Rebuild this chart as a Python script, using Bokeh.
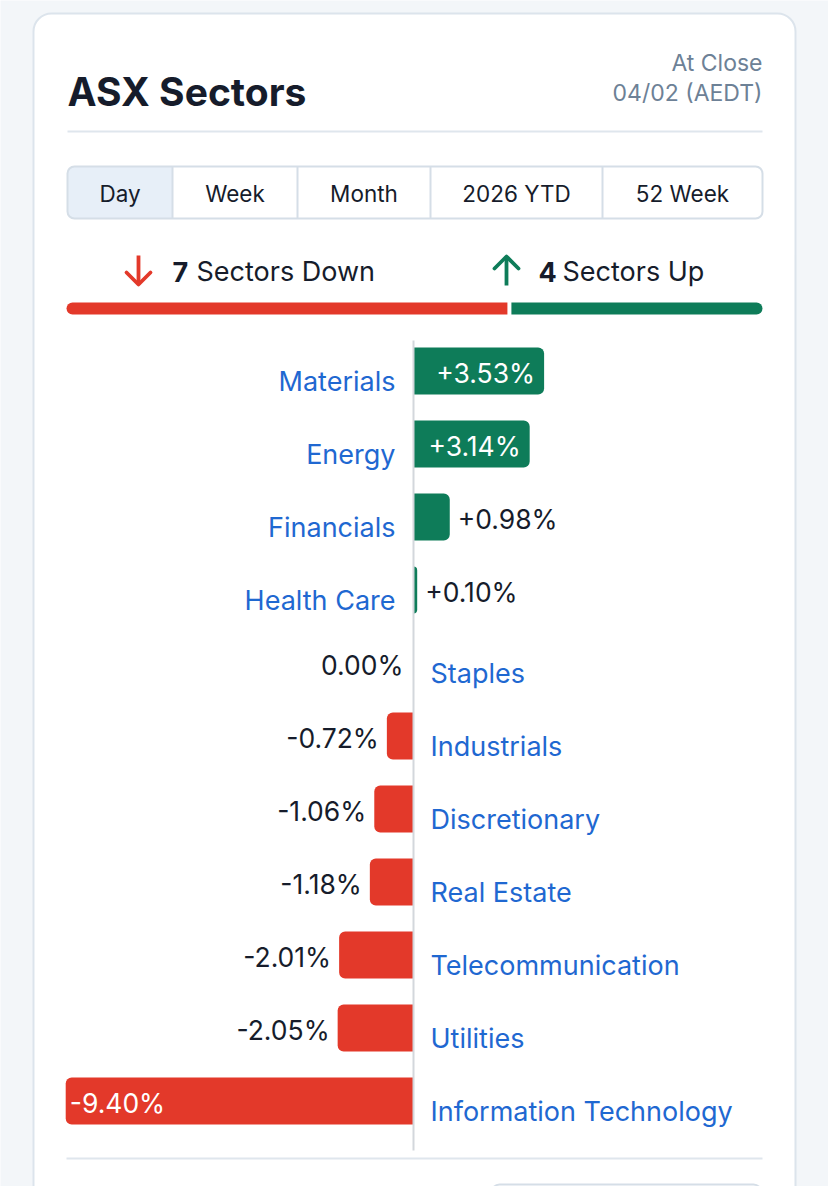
import numpy as np
from bokeh.plotting import figure
from bokeh.models import Range1d, ColumnDataSource
from bokeh.core.properties import value
from bokeh.embed import file_html
from bokeh.resources import INLINE

# ---------------- data ----------------
sectors = ["Materials", "Energy", "Financials", "Health Care", "Staples", "Industrials",
           "Discretionary", "Real Estate", "Telecommunication", "Utilities",
           "Information Technology"]
changes = [3.53, 3.14, 0.98, 0.10, 0.00, -0.72, -1.06, -1.18, -2.01, -2.05, -9.40]
tabs = ["Day", "Week", "Month", "2026 YTD", "52 Week"]
title_text = "ASX Sectors"
status_lines = ["At Close", "04/02 (AEDT)"]

# ---------------- style ----------------
W, H = 828, 1186
FONT = value("Inter")
RED = "#e3392a"
GREEN = "#0e7c59"
BLUE = "#1f68d1"
DARK = "#161c2b"
GREY = "#6d8196"
LINE = "#dfe6ed"
PAGE_BG = "#f3f6f9"

ZERO_PX = 413.0     # pixel position of 0 %
PX_PER_PCT = 37.0
ROW0_PX = 370.5     # pixel centre of first row
ROW_PX = 73.0       # row spacing

p = figure(width=W, height=H, output_backend="svg", toolbar_location=None,
           x_range=Range1d(0, W), y_range=Range1d(H, 0),
           x_axis_location=None, y_axis_location=None,
           min_border=0, outline_line_color=None,
           background_fill_color=PAGE_BG, border_fill_color=PAGE_BG)
p.grid.visible = False

p.extra_x_ranges = {
    "pct": Range1d(-ZERO_PX / PX_PER_PCT, (W - ZERO_PX) / PX_PER_PCT),
}
p.extra_y_ranges = {
    "row": Range1d((H - ROW0_PX) / ROW_PX, -ROW0_PX / ROW_PX),
}

# ---------------- card ----------------
p.quad(left=[33], right=[795], top=[13], bottom=[1230], fill_color="white",
       line_color="#dce4ec", line_width=2, border_radius=18)

# header
p.text(x=[67], y=[91], text=[title_text], text_font=FONT, text_font_size="39px",
       text_font_style="bold", text_color=DARK, text_baseline="middle")
p.text(x=[762, 762], y=[62, 92], text=status_lines, text_font=FONT,
       text_font_size="23px", text_color=GREY, text_align="right",
       text_baseline="middle")
p.segment(x0=[67], x1=[762], y0=[131], y1=[131], line_color=LINE, line_width=2)

# tab bar
edges = [67, 172, 297, 430, 602, 762]
p.quad(left=[edges[0]], right=[edges[1]], top=[166], bottom=[218],
       fill_color="#e7eff8", line_color=None, border_radius=(6, 0, 0, 6))
p.quad(left=[edges[0]], right=[edges[-1]], top=[166], bottom=[218],
       fill_color=None, line_color="#d5dee7", line_width=2, border_radius=7)
p.segment(x0=edges[1:-1], x1=edges[1:-1], y0=[166] * 4, y1=[218] * 4,
          line_color="#d5dee7", line_width=2)
centers = [(a + b) / 2 for a, b in zip(edges[:-1], edges[1:])]
p.text(x=centers, y=[193] * len(tabs), text=tabs, text_font=FONT,
       text_font_size="22.5px", text_color=DARK, text_align="center",
       text_baseline="middle")

# ---------------- summary ----------------
n_up = int(sum(1 for v in changes if v > 0))
n_down = len(changes) - n_up          # flat sectors count as down
n_tot = len(changes)

# down arrow
p.segment(x0=[138], x1=[138], y0=[255], y1=[284], line_color=RED, line_width=3.8)
p.line(x=[126, 138, 150], y=[272, 284, 272], line_color=RED, line_width=3.8,
       line_join="round", line_cap="round")
p.text(x=[172], y=[271], text=[str(n_down)], text_font=FONT, text_font_size="27px",
       text_font_style="bold", text_color=DARK, text_baseline="middle")
p.text(x=[196], y=[271], text=["Sectors Down"], text_font=FONT, text_font_size="27px",
       text_color=DARK, text_baseline="middle")
# up arrow
p.segment(x0=[506], x1=[506], y0=[256], y1=[285], line_color=GREEN, line_width=3.8)
p.line(x=[494, 506, 518], y=[268, 256, 268], line_color=GREEN, line_width=3.8,
       line_join="round", line_cap="round")
p.text(x=[538], y=[271], text=[str(n_up)], text_font=FONT, text_font_size="27px",
       text_font_style="bold", text_color=DARK, text_baseline="middle")
p.text(x=[562], y=[271], text=["Sectors Up"], text_font=FONT, text_font_size="27px",
       text_color=DARK, text_baseline="middle")

# share bar (count units)
p.extra_x_ranges["share"] = Range1d(-66 * n_tot / 696.0, (W - 66) * n_tot / 696.0)
p.hbar(y=[308], left=[0], right=[n_down], height=12, fill_color=RED, line_color=None,
       x_range_name="share", border_radius=(6, 0, 0, 6))
p.hbar(y=[308], left=[n_down], right=[n_tot], height=12, fill_color=GREEN,
       line_color=None, x_range_name="share", border_radius=(0, 6, 6, 0))
p.segment(x0=[n_down], x1=[n_down], y0=[300], y1=[316], line_color="white",
          line_width=4, x_range_name="share")

# ---------------- bars ----------------
rows = np.arange(len(sectors))
vals = np.array(changes)
pos = vals > 0
neg = vals < 0
bar_h = 47.0 / ROW_PX

src_pos = ColumnDataSource(dict(y=rows[pos], v=vals[pos]))
src_neg = ColumnDataSource(dict(y=rows[neg], v=vals[neg]))
p.hbar(y="y", left=0, right="v", height=bar_h, source=src_pos, fill_color=GREEN,
       line_color=None, x_range_name="pct", y_range_name="row",
       border_radius=(0, 6, 6, 0))
p.hbar(y="y", left="v", right=0, height=bar_h, source=src_neg, fill_color=RED,
       line_color=None, x_range_name="pct", y_range_name="row",
       border_radius=(6, 0, 0, 6))

# zero axis
p.segment(x0=[0], x1=[0], y0=[340], y1=[1150], line_color="#d3d7dc", line_width=2,
          x_range_name="pct")

# value labels
inside = np.abs(vals) > 3.0
lab = [("0.00%" if v == 0 else f"{v:+.2f}%") for v in vals]
v_x_off, v_align, v_col = [], [], []
for v, ins in zip(vals, inside):
    if v > 0:
        if ins:
            v_x_off.append(-9); v_align.append("right"); v_col.append("white")
        else:
            v_x_off.append(8); v_align.append("left"); v_col.append(DARK)
    elif v < 0:
        if ins:
            v_x_off.append(4); v_align.append("left"); v_col.append("white")
        else:
            v_x_off.append(-8); v_align.append("right"); v_col.append(DARK)
    else:
        v_x_off.append(-10); v_align.append("right"); v_col.append(DARK)

src_val = ColumnDataSource(dict(x=vals, y=rows, t=lab, xo=v_x_off, al=v_align, c=v_col))
p.text(x="x", y="y", text="t", source=src_val, x_offset="xo", y_offset=2,
       text_align="al", text_color="c", text_font=FONT, text_font_size="26.5px",
       text_baseline="middle", x_range_name="pct", y_range_name="row")

# sector labels
s_x_off = [-18 if v > 0 else 17 for v in vals]
s_align = ["right" if v > 0 else "left" for v in vals]
src_lab = ColumnDataSource(dict(x=np.zeros(len(vals)), y=rows, t=sectors,
                                xo=s_x_off, al=s_align))
p.text(x="x", y="y", text="t", source=src_lab, x_offset="xo", y_offset=10,
       text_align="al", text_color=BLUE, text_font=FONT, text_font_size="27px",
       text_baseline="middle", x_range_name="pct", y_range_name="row")

# footer
p.segment(x0=[66], x1=[762], y0=[1158], y1=[1158], line_color=LINE, line_width=2)
p.quad(left=[491], right=[761], top=[1184], bottom=[1230], fill_color="white",
       line_color="#d5dee7", line_width=2, border_radius=8)

open("out.html", "w").write(file_html(p, INLINE))
